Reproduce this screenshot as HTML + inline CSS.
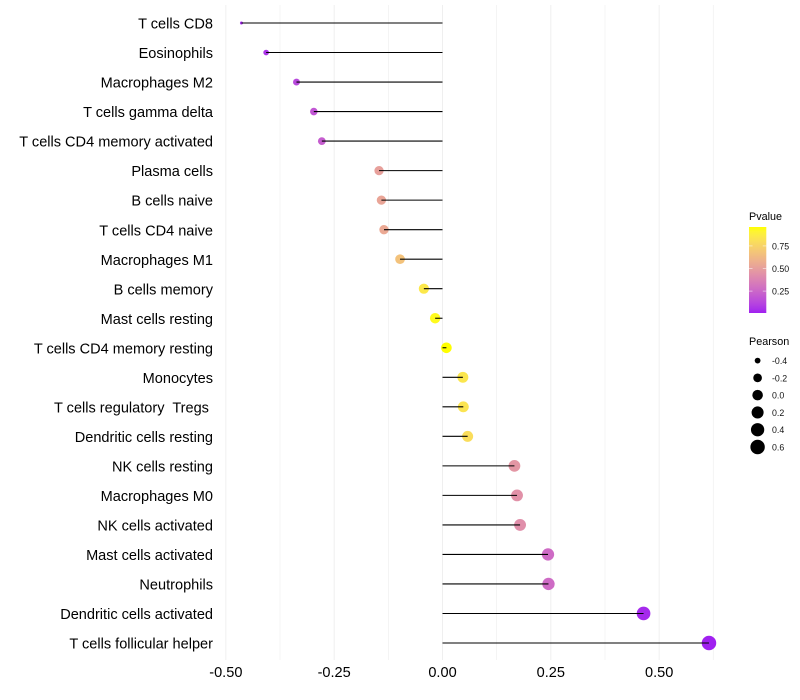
<!DOCTYPE html>
<html lang="en">
<head>
<meta charset="utf-8">
<title>Immune cell correlation lollipop chart</title>
<style>
html,body{margin:0;padding:0;background:#fff;width:800px;height:700px;overflow:hidden}
svg{display:block;font-family:"Liberation Sans",Arial,sans-serif}
text{white-space:pre}
</style>
</head>
<body>
<svg id="chart" width="800" height="700" viewBox="0 0 800 700" xmlns="http://www.w3.org/2000/svg"></svg>
<script>
const categories = ["T cells CD8","Eosinophils","Macrophages M2","T cells gamma delta","T cells CD4 memory activated","Plasma cells","B cells naive","T cells CD4 naive","Macrophages M1","B cells memory","Mast cells resting","T cells CD4 memory resting","Monocytes","T cells regulatory  Tregs ","Dendritic cells resting","NK cells resting","Macrophages M0","NK cells activated","Mast cells activated","Neutrophils","Dendritic cells activated","T cells follicular helper"];
const pearson = [-0.464,-0.407,-0.337,-0.297,-0.2785,-0.1465,-0.141,-0.135,-0.098,-0.043,-0.017,0.009,0.047,0.048,0.058,0.166,0.172,0.179,0.2435,0.2446,0.464,0.615];
const pvalue = [0.03,0.06,0.13,0.18,0.21,0.51,0.53,0.55,0.67,0.85,0.94,0.96,0.84,0.83,0.80,0.46,0.44,0.43,0.27,0.27,0.03,0.007];
const xMajorTicks = [-0.5,-0.25,0,0.25,0.5];
const xMinorTicks = [-0.375,-0.125,0.125,0.375,0.625];
const xTickLabels = ["-0.50","-0.25","0.00","0.25","0.50"];
const colorTicks = [0.25,0.5,0.75];
const colorTickLabels = ["0.25","0.50","0.75"];
const sizeBreaks = [-0.4,-0.2,0,0.2,0.4,0.6];
const sizeBreakLabels = ["-0.4","-0.2","0.0","0.2","0.4","0.6"];

const NS = "http://www.w3.org/2000/svg";
const svg = document.getElementById("chart");
function make(tag, attrs, parent, txt){
  const el = document.createElementNS(NS, tag);
  for (const k in attrs) el.setAttribute(k, attrs[k]);
  if (txt !== undefined) el.textContent = txt;
  (parent || svg).appendChild(el);
  return el;
}
/* axis functions */
const xScale = v => 442.5 + v * 433.3;
const yScale = i => 23 + i * (620 / (categories.length - 1));
const pMin = 0.007, pMax = 0.96;
const colorY = p => 313 - (p - pMin) / (pMax - pMin) * 86;
const sMin = -0.464, sMax = 0.615;
const diameter = v => 3 + 11.5 * Math.sqrt(Math.max(0, (v - sMin) / (sMax - sMin)));

/* colour scale: purple to yellow interpolated in Lab */
function srgb2lin(c){c/=255;return c<=0.04045?c/12.92:Math.pow((c+0.055)/1.055,2.4);}
function lin2srgb(c){c=Math.min(1,Math.max(0,c));return Math.round(255*(c<=0.0031308?12.92*c:1.055*Math.pow(c,1/2.4)-0.055));}
function rgb2lab(r,g,b){
  const R=srgb2lin(r),G=srgb2lin(g),B=srgb2lin(b);
  const f=t=>t>0.008856?Math.cbrt(t):7.787*t+16/116;
  const X=f((0.4124*R+0.3576*G+0.1805*B)/0.95047),Y=f(0.2126*R+0.7152*G+0.0722*B),Z=f((0.0193*R+0.1192*G+0.9505*B)/1.08883);
  return [116*Y-16,500*(X-Y),200*(Y-Z)];
}
function lab2rgb(L,a,b){
  const fy=(L+16)/116,fx=fy+a/500,fz=fy-b/200;
  const g=t=>t*t*t>0.008856?t*t*t:(t-16/116)/7.787;
  const X=g(fx)*0.95047,Y=g(fy),Z=g(fz)*1.08883;
  const R=3.2406*X-1.5372*Y-0.4986*Z,G=-0.9689*X+1.8758*Y+0.0415*Z,B=0.0557*X-0.2040*Y+1.0570*Z;
  return "rgb("+lin2srgb(R)+","+lin2srgb(G)+","+lin2srgb(B)+")";
}
const labLow = rgb2lab(160,32,240), labHigh = rgb2lab(255,255,0);
function colorScale(p){
  const t = Math.min(1, Math.max(0, (p - pMin) / (pMax - pMin)));
  return lab2rgb(labLow[0]+(labHigh[0]-labLow[0])*t, labLow[1]+(labHigh[1]-labLow[1])*t, labLow[2]+(labHigh[2]-labLow[2])*t);
}

/* gridlines */
const grid = make("g", {});


xMinorTicks.forEach(v => {
  const l = make("line", {x1:xScale(v),x2:xScale(v),y1:5,y2:660,stroke:"#f0f0f0","stroke-width":0.7}, grid);
  
  
});
xMajorTicks.forEach(v => {
  const l = make("line", {x1:xScale(v),x2:xScale(v),y1:5,y2:660,stroke:"#eeeeee","stroke-width":0.9}, grid);
  
  
});

/* points, then segments on top */
const pts = make("g", {});


const segs = make("g", {});


const ylabs = make("g", {});


categories.forEach((c, i) => {
  const y = yScale(i), x = xScale(pearson[i]);
  const pt = make("circle", {cx:x,cy:y,r:diameter(pearson[i])/2,fill:colorScale(pvalue[i])}, pts);
  
  
  const seg = make("line", {x1:xScale(0),x2:x,y1:y,y2:y,stroke:"#000","stroke-width":1.07}, segs);
  
  
  const t = make("text", {x:213,y:y+5.6,"text-anchor":"end","font-size":14.55,fill:"#000"}, ylabs, c);
  
  
});

/* x tick labels */
const xlabs = make("g", {});


xMajorTicks.forEach((v, i) => {
  const t = make("text", {x:xScale(v),y:677,"text-anchor":"middle","font-size":14.55,fill:"#000"}, xlabs, xTickLabels[i]);
  
  
});

/* colour legend */
const cLeg = make("g", {});


const cTitle = make("text", {x:749,y:220,"font-size":10.8,fill:"#000"}, cLeg, "Pvalue");


const defs = make("defs", {});
const grad = make("linearGradient", {id:"pgrad",x1:0,y1:1,x2:0,y2:0}, defs);
for (let s = 0; s <= 20; s++) {
  make("stop", {offset:s/20,"stop-color":colorScale(pMin+(pMax-pMin)*s/20)}, grad);
}
const bar = make("rect", {x:749,y:227,width:17.3,height:86,fill:"url(#pgrad)"}, cLeg);


colorTicks.forEach((p, i) => {
  const y = colorY(p);
  const a = make("line", {x1:749,x2:752.5,y1:y,y2:y,stroke:"#fff","stroke-width":0.5}, cLeg);
  
  
  const b = make("line", {x1:762.8,x2:766.3,y1:y,y2:y,stroke:"#fff","stroke-width":0.5}, cLeg);
  
  
  const t = make("text", {x:772,y:y+3.4,"font-size":8.8,fill:"#111"}, cLeg, colorTickLabels[i]);
  
  
});

/* size legend */
const sLeg = make("g", {});


const sTitle = make("text", {x:749,y:345,"font-size":10.8,fill:"#000"}, sLeg, "Pearson");


sizeBreaks.forEach((v, i) => {
  const y = 360.6 + i * 17.28;
  const k = make("circle", {cx:757.6,cy:y,r:diameter(v)/2,fill:"#000"}, sLeg);
  
  
  const t = make("text", {x:772,y:y+3.4,"font-size":8.8,fill:"#111"}, sLeg, sizeBreakLabels[i]);
  
  
});
</script>
</body>
</html>
